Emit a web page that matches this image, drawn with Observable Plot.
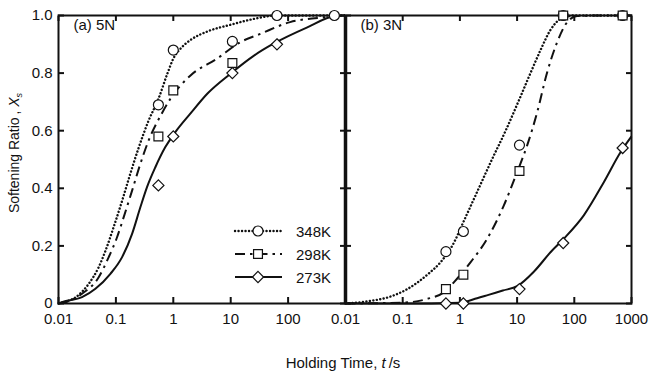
<!DOCTYPE html>
<html><head><meta charset="utf-8">
<script src="https://cdn.jsdelivr.net/npm/d3@7"></script>
<script src="https://cdn.jsdelivr.net/npm/@observablehq/plot@0.6"></script>
<style>
body{margin:0;background:#fff;}
#chart{position:relative;width:649px;height:374px;overflow:hidden;font-family:"Liberation Sans",Arial,sans-serif;color:#111;background:#fff;}
.ttl{position:absolute;white-space:nowrap;transform-origin:center;}
</style></head><body><div id="chart"></div><script>
// ---- tick labels ----
const xTicksA = [0.01, 0.1, 1, 10, 100];
const xTicksB = [0.01, 0.1, 1, 10, 100, 1000];
const yTicks = [0, 0.2, 0.4, 0.6, 0.8, 1.0];
const seriesNames = ["348K", "298K", "273K"];
const panelLabels = ["(a) 5N", "(b) 3N"];

// ---- measured points (holding time s, softening ratio) ----
const timesA = [0.55, 1.0, 10.7, 64, 640];
const ptsA348 = [0.69, 0.88, 0.91, 1.0, 1.0];
const ptsA298 = [0.58, 0.74, 0.835, NaN, NaN];
const ptsA273 = [0.41, 0.58, 0.80, 0.90, NaN];
const timesB = [0.57, 1.15, 11, 64, 700];
const ptsB348 = [0.18, 0.25, 0.55, 1.0, 1.0];
const ptsB298 = [0.05, 0.10, 0.46, 1.0, 1.0];
const ptsB273 = [0.0, 0.0, 0.05, 0.21, 0.54];

// ---- fitted curves: log10(t) and softening ratio ----
const fitA348LogT = [-2, -1.85, -1.7, -1.475, -1.3, -1.18, -1.04, -0.89, -0.75, -0.6, -0.43, -0.26, -0.1, 0, 0.15, 0.3, 0.6, 1.0, 1.4, 1.8, 2.4, 3];
const fitA348 =     [0, 0.008, 0.022, 0.068, 0.126, 0.184, 0.265, 0.358, 0.45, 0.543, 0.635, 0.71, 0.80, 0.85, 0.89, 0.915, 0.945, 0.968, 0.988, 1.0, 1.0, 1.0];
const fitA298LogT = [-2, -1.85, -1.59, -1.3, -1.125, -0.98, -0.864, -0.718, -0.574, -0.43, -0.2, -0.05, 0.3, 0.76, 1.165, 1.513, 2.035, 2.67, 3];
const fitA298 =     [0, 0.006, 0.034, 0.091, 0.161, 0.23, 0.30, 0.392, 0.485, 0.566, 0.66, 0.711, 0.792, 0.85, 0.907, 0.936, 0.977, 0.994, 1.0];
const fitA273LogT = [-2, -1.94, -1.59, -1.357, -1.096, -0.892, -0.718, -0.574, -0.458, -0.313, -0.139, 0.035, 0.3, 0.6, 0.99, 1.4, 1.745, 2.325, 2.817, 3];
const fitA273 =     [0, 0.005, 0.022, 0.051, 0.103, 0.161, 0.242, 0.334, 0.404, 0.473, 0.543, 0.595, 0.66, 0.73, 0.797, 0.86, 0.902, 0.958, 0.998, 1.0];
const fitB348LogT = [-2, -1.6, -1.2, -0.92, -0.57, -0.34, -0.135, 0.1, 0.33, 0.56, 0.8, 1.02, 1.234, 1.41, 1.584, 1.76, 2, 3];
const fitB348 =     [0, 0.008, 0.025, 0.05, 0.10, 0.143, 0.2, 0.3, 0.4, 0.5, 0.6, 0.7, 0.8, 0.88, 0.95, 0.988, 1.0, 1.0];
const fitB298LogT = [-2, -1, -0.57, -0.28, -0.05, 0.185, 0.477, 0.767, 1.0, 1.176, 1.351, 1.526, 1.70, 1.876, 2.05, 2.5, 3];
const fitB298 =     [0, 0.003, 0.016, 0.039, 0.086, 0.143, 0.225, 0.34, 0.456, 0.549, 0.664, 0.803, 0.907, 0.977, 0.998, 1.0, 1.0];
const fitB273LogT = [-2, -1, 0, 0.3, 0.5, 0.75, 1.0, 1.3, 1.584, 1.817, 2.166, 2.516, 2.808, 3];
const fitB273 =     [0, 0, 0.003, 0.018, 0.03, 0.045, 0.06, 0.112, 0.178, 0.225, 0.306, 0.421, 0.525, 0.58];

const INK = "#111";
const lineStyles = {
  "348K": {dash: "0.1 3.4", cap: "round", width: 2.4},
  "298K": {dash: "10 5 2.5 5", cap: "butt", width: 2},
  "273K": {dash: null, cap: "butt", width: 2}
};
const symbols = {"348K": "circle", "298K": "square", "273K": "diamond2"};
const R = 5;

const pts = (times, vals) => times.map((t, i) => ({t, v: vals[i]}));
const fit = (logT, vals) => logT.map((e, i) => ({t: Math.pow(10, e), v: vals[i]}));

function curveMark(data, name) {
  const s = lineStyles[name];
  const o = {x: "t", y: "v", stroke: INK, strokeWidth: s.width, strokeLinecap: s.cap, curve: "monotone-x"};
  if (s.dash) o.strokeDasharray = s.dash;
  return Plot.line(data, o);
}
function dotMark(data, name) {
  return Plot.dot(data, {x: "t", y: "v", symbol: symbols[name], r: R, fill: "white", stroke: INK, strokeWidth: 1.2});
}

const fmtX = d => String(d);
const fmtY = d => d === 0 ? "0" : d.toFixed(1);
const blank = () => "";

function panel({left, width, mLeft, mRight, xTicks, showYLabels, label, curves, dots, thickLeft}) {
  const marks = [
    Plot.frame({stroke: INK, strokeWidth: 2}),
    Plot.axisX({ticks: xTicks, tickSize: 0, tickPadding: 10, tickFormat: fmtX, label: null}),
    Plot.axisX({ticks: xTicksB, tickSize: 6, dy: -6, tickFormat: blank, label: null, stroke: INK, strokeWidth: 2}),
    Plot.axisX({anchor: "top", ticks: xTicksB, tickSize: 5, dy: 5, tickFormat: blank, label: null, stroke: INK, strokeWidth: 2}),
    Plot.axisY({ticks: yTicks, tickSize: 6, dx: 6, tickFormat: blank, label: null, stroke: INK, strokeWidth: 2}),
    Plot.axisY({anchor: "right", ticks: yTicks, tickSize: 6, dx: -6, tickFormat: blank, label: null, stroke: INK, strokeWidth: 2})
  ];
  if (showYLabels) marks.push(Plot.axisY({ticks: yTicks, tickSize: 0, tickPadding: 6, tickFormat: fmtY, label: null}));
  if (thickLeft) marks.push(Plot.ruleX([0.01], {stroke: INK, strokeWidth: 3.5}));
  marks.push(Plot.text([label], {frameAnchor: "top-left", dx: 15, dy: 4}));
  marks.push(...curves, ...dots);
  return Plot.plot({
    width, height: 374,
    marginLeft: mLeft, marginRight: mRight, marginTop: 15, marginBottom: 71,
    x: {type: "log", domain: [0.01, 1000]},
    y: {domain: [0, 1]},
    style: {position: "absolute", left: left + "px", top: "0px", background: "transparent",
            fontSize: "15px", fontFamily: "'Liberation Sans', Arial, sans-serif", color: INK},
    marks
  });
}

const chart = document.getElementById("chart");

const svgA = panel({
  left: 0, width: 345, mLeft: 58, mRight: 0, xTicks: xTicksA, showYLabels: true, label: panelLabels[0],
  curves: [curveMark(fit(fitA348LogT, fitA348), "348K"), curveMark(fit(fitA298LogT, fitA298), "298K"), curveMark(fit(fitA273LogT, fitA273), "273K")],
  dots: [dotMark(pts(timesA, ptsA298), "298K"), dotMark(pts(timesA, ptsA273), "273K"), dotMark(pts(timesA, ptsA348), "348K")]
});
const svgB = panel({
  left: 330, width: 319, mLeft: 15, mRight: 18, xTicks: xTicksB, showYLabels: false, label: panelLabels[1], thickLeft: true,
  curves: [curveMark(fit(fitB348LogT, fitB348), "348K"), curveMark(fit(fitB298LogT, fitB298), "298K"), curveMark(fit(fitB273LogT, fitB273), "273K")],
  dots: [dotMark(pts(timesB, ptsB348), "348K"), dotMark(pts(timesB, ptsB298), "298K"), dotMark(pts(timesB, ptsB273), "273K")]
});
chart.appendChild(svgA);
chart.appendChild(svgB);

// ---- legend (inside panel a) ----
const leg = d3.create("svg").attr("width", 120).attr("height", 70)
  .style("position", "absolute").style("left", "230px").style("top", "220px")
  .style("font-family", "'Liberation Sans', Arial, sans-serif").style("font-size", "15px");
const symFns = {circle: d3.symbolCircle, square: d3.symbolSquare, diamond2: d3.symbolDiamond2};
seriesNames.forEach((name, i) => {
  const cy = 11 + i * 23;
  const s = lineStyles[name];
  const ln = leg.append("line").attr("x1", 5).attr("x2", 52).attr("y1", cy).attr("y2", cy)
    .attr("stroke", INK).attr("stroke-width", s.width).attr("stroke-linecap", s.cap);
  if (s.dash) ln.attr("stroke-dasharray", s.dash);
  leg.append("path").attr("transform", `translate(28,${cy})`)
    .attr("d", d3.symbol(symFns[symbols[name]], R * R * Math.PI)())
    .attr("fill", "white").attr("stroke", INK).attr("stroke-width", 1.2);
  leg.append("text").attr("x", 66).attr("y", cy + 5.5).attr("fill", INK).text(name);
});
chart.appendChild(leg.node());

// ---- axis titles ----
const yt = document.createElement("div");
yt.className = "ttl";
yt.style.cssText = "left:15px;top:153px;font-size:14px;transform:translate(-50%,-50%) rotate(-90deg);";
yt.innerHTML = 'Softening Ratio&thinsp;, <i>X</i><sub style="font-size:9px"><i>s</i></sub>';
chart.appendChild(yt);
const xt = document.createElement("div");
xt.className = "ttl";
xt.style.cssText = "left:343px;top:362px;font-size:15px;transform:translate(-50%,-50%);";
xt.innerHTML = 'Holding Time, <i>t</i>&thinsp;/s';
chart.appendChild(xt);
</script></body></html>
